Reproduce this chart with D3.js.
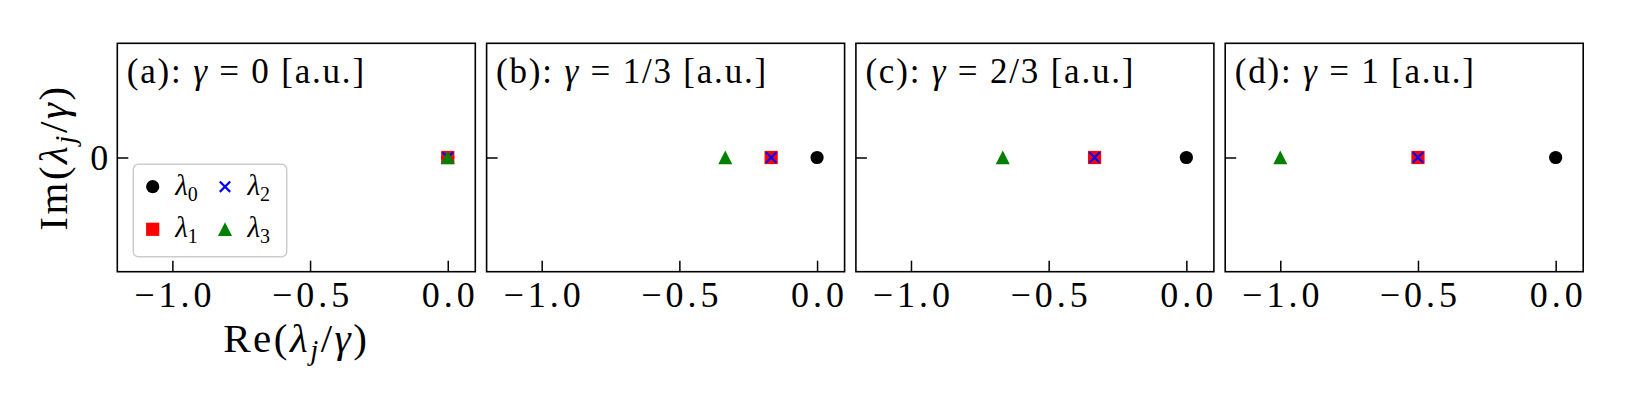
<!DOCTYPE html>
<html lang="en">
<head>
<meta charset="UTF-8">
<title>Eigenvalues</title>
<style>
body { margin: 0; background: #fff; }
text { font-family: "Liberation Serif", "DejaVu Serif", serif; fill: #000; }
.tick line { stroke: #000; stroke-width: 1.5px; }
</style>
</head>
<body>
<script src="https://d3js.org/d3.v7.min.js"></script>
<script>
// data
var panelLabels = ["(a)", "(b)", "(c)", "(d)"];
var gammaText = ["0", "1/3", "2/3", "1"];
var lambda0Re = [0, 0, 0, 0];
var lambda1Re = [0, -1/6, -1/3, -1/2];
var lambda2Re = [0, -1/6, -1/3, -1/2];
var lambda3Re = [0, -1/3, -2/3, -1];
var lambdaIm = [0, 0, 0, 0];
var xTicks = [-1.0, -0.5, 0.0];
var yTicks = [0];
var xDomain = [-1.2, 0.1];
var yDomain = [-1, 1];

var width = 1627, height = 407;
var left0 = 117.3, top0 = 43.3, panelW = 358, panelH = 228.4, gap = 11.3;

var series = [
  {name: "0", re: lambda0Re, sym: "circle", color: "#000000"},
  {name: "1", re: lambda1Re, sym: "square", color: "#ff0000"},
  {name: "2", re: lambda2Re, sym: "x", color: "#0000ff"},
  {name: "3", re: lambda3Re, sym: "triangle", color: "#008000"}
];

var svg = d3.select("body").append("svg")
    .attr("width", width)
    .attr("height", height);

svg.append("rect").attr("width", width).attr("height", height).attr("fill", "#fff");

var x = d3.scaleLinear().domain(xDomain).range([0, panelW]);
var y = d3.scaleLinear().domain(yDomain).range([panelH, 0]);

function fmt(d) {
  return (d < 0 ? "\u2212" : "") + Math.abs(d).toFixed(1);
}

function drawMarker(g, sym, color, cx, cy) {
  if (sym === "circle") {
    g.append("circle").attr("cx", cx).attr("cy", cy).attr("r", 6.6).attr("fill", color);
  } else if (sym === "square") {
    g.append("rect").attr("x", cx - 6.6).attr("y", cy - 6.6).attr("width", 13.2).attr("height", 13.2).attr("fill", color);
  } else if (sym === "x") {
    var s = 5.2;
    g.append("path")
      .attr("d", "M" + (cx - s) + "," + (cy - s) + "L" + (cx + s) + "," + (cy + s) +
                 "M" + (cx - s) + "," + (cy + s) + "L" + (cx + s) + "," + (cy - s))
      .attr("stroke", color).attr("stroke-width", 2.2).attr("fill", "none");
  } else {
    var h = 7;
    g.append("path")
      .attr("d", "M" + cx + "," + (cy - h) + "L" + (cx + h) + "," + (cy + h * 0.95) + "L" + (cx - h) + "," + (cy + h * 0.95) + "Z")
      .attr("fill", color);
  }
}

panelLabels.forEach(function(lab, i) {
  var g = svg.append("g")
      .attr("transform", "translate(" + (left0 + i * (panelW + gap)) + "," + top0 + ")");

  // x axis, ticks pointing in
  var xa = g.append("g")
      .attr("transform", "translate(0," + panelH + ")")
      .call(d3.axisBottom(x).tickValues(xTicks).tickSizeInner(-11).tickSizeOuter(0).tickFormat(fmt));
  xa.select(".domain").remove();
  xa.selectAll("text")
      .attr("y", 35).attr("dy", null).attr("dx", 2)
      .style("font-size", "36px").style("letter-spacing", "4px");

  var ya = g.append("g")
      .call(d3.axisLeft(y).tickValues(yTicks).tickSizeInner(-11).tickSizeOuter(0).tickFormat(i === 0 ? d3.format("d") : ""));
  ya.select(".domain").remove();
  ya.selectAll("text")
      .attr("x", -9).attr("dy", "0.34em")
      .style("font-size", "36px");

  // markers
  series.forEach(function(s) {
    drawMarker(g, s.sym, s.color, x(s.re[i]), y(lambdaIm[i]));
  });

  g.append("rect")
      .attr("width", panelW).attr("height", panelH)
      .attr("fill", "none").attr("stroke", "#000").attr("stroke-width", 1.6);

  // panel title
  var t = g.append("text").attr("x", 9.5).attr("y", 40).style("font-size", "35px").style("letter-spacing", "1.8px");
  t.append("tspan").text(lab + ":  ");
  t.append("tspan").style("font-style", "italic").text("\u03b3");
  t.append("tspan").text(" = " + gammaText[i] + " [a.u.]");

  if (i === 0) {
    // legend
    var lg = g.append("g").attr("transform", "translate(16,121)");
    lg.append("rect")
        .attr("width", 153.4).attr("height", 92.5).attr("rx", 5)
        .attr("fill", "#fff").attr("fill-opacity", 0.8)
        .attr("stroke", "#cccccc").attr("stroke-width", 1.5);
    series.forEach(function(s, k) {
      var col = Math.floor(k / 2), row = k % 2;
      var mx = 19.4 + col * 72.3, my = 22.4 + row * 42.6;
      drawMarker(lg, s.sym, s.color, mx, my);
      var lt = lg.append("text").attr("x", mx + 22.5).attr("y", my + 8).style("font-size", "29px");
      lt.append("tspan").style("font-style", "italic").text("\u03bb");
      lt.append("tspan").attr("dy", 6).style("font-size", "20px").text(s.name);
    });

    // axis labels
    var xl = g.append("text")
        .attr("x", panelW / 2).attr("y", 308.5)
        .attr("text-anchor", "middle").style("font-size", "41px").style("letter-spacing", "2.5px");
    xl.append("tspan").text("Re(");
    xl.append("tspan").style("font-style", "italic").text("\u03bb");
    xl.append("tspan").attr("dy", 8).style("font-size", "29px").style("font-style", "italic").text("j");
    xl.append("tspan").attr("dy", -8).text("/");
    xl.append("tspan").style("font-style", "italic").text("\u03b3");
    xl.append("tspan").text(")");

    var yl = g.append("text")
        .attr("transform", "translate(-50," + (panelH / 2) + ")rotate(-90)")
        .attr("text-anchor", "middle").style("font-size", "41px").style("letter-spacing", "2.5px");
    yl.append("tspan").text("Im(");
    yl.append("tspan").style("font-style", "italic").text("\u03bb");
    yl.append("tspan").attr("dy", 8).style("font-size", "29px").style("font-style", "italic").text("j");
    yl.append("tspan").attr("dy", -8).text("/");
    yl.append("tspan").style("font-style", "italic").text("\u03b3");
    yl.append("tspan").text(")");
  }
});
</script>
</body>
</html>
